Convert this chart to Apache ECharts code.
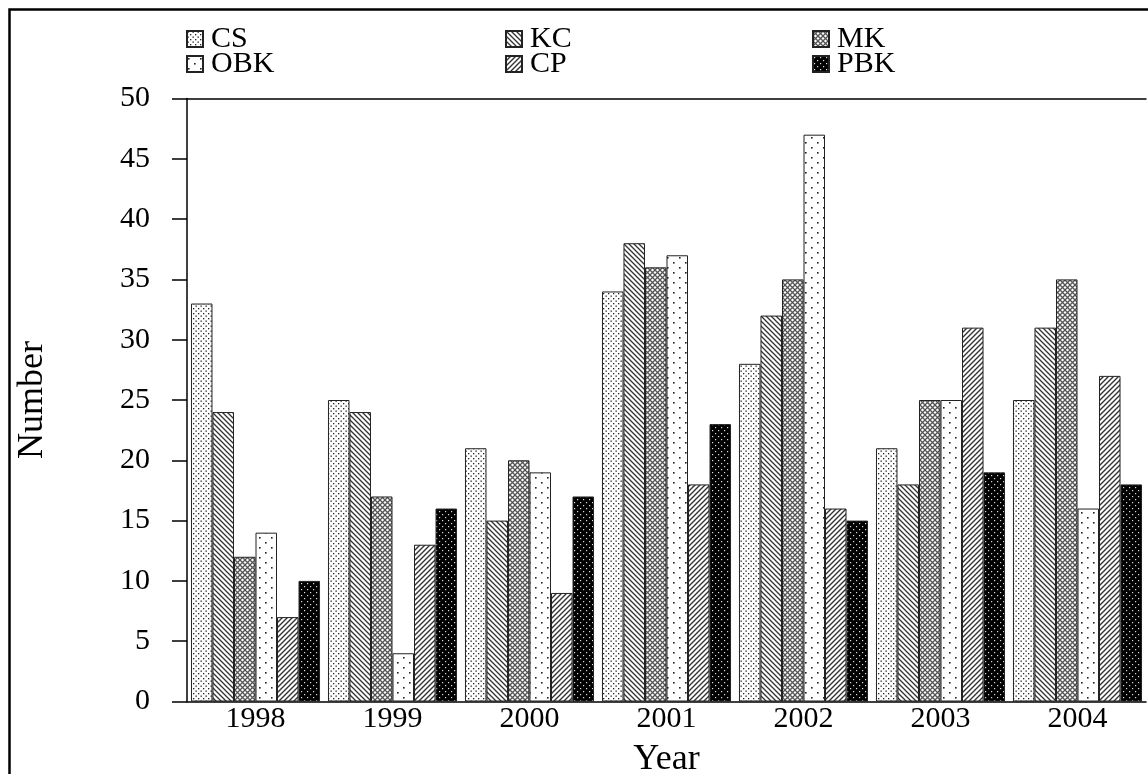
<!DOCTYPE html>
<html>
<head>
<meta charset="utf-8">
<script src="https://cdn.jsdelivr.net/npm/echarts@6/dist/echarts.min.js"></script>
<style>
html,body{margin:0;padding:0;background:#fff;}
#chart{width:1148px;height:774px;}
</style>
</head>
<body>
<div id="chart"></div>
<script>
// ---- data ----
const categories = ['1998', '1999', '2000', '2001', '2002', '2003', '2004'];
const seriesNames = ['CS', 'KC', 'MK', 'OBK', 'CP', 'PBK'];
const CS  = [33, 25, 21, 34, 28, 21, 25];
const KC  = [24, 24, 15, 38, 32, 18, 31];
const MK  = [12, 17, 20, 36, 35, 25, 35];
const OBK = [14,  4, 19, 37, 47, 25, 16];
const CP  = [ 7, 13,  9, 18, 16, 31, 27];
const PBK = [10, 16, 17, 23, 15, 19, 18];
const yMin = 0, yMax = 50, yInterval = 5;

// ---- patterns ----
function makePattern(w, h, draw) {
  const c = document.createElement('canvas');
  c.width = w; c.height = h;
  const ctx = c.getContext('2d');
  draw(ctx, w, h);
  return { image: c, repeat: 'repeat' };
}
function dot(ctx, x, y, s, col) { ctx.fillStyle = col; ctx.fillRect(x, y, s, s); }

const patCS = makePattern(5, 5, (ctx) => {
  ctx.fillStyle = '#fff'; ctx.fillRect(0, 0, 5, 5);
  dot(ctx, 0.5, 0.5, 1.3, '#222'); dot(ctx, 3, 3, 1.3, '#222');
});
const patOBK = makePattern(12, 10, (ctx) => {
  ctx.fillStyle = '#fff'; ctx.fillRect(0, 0, 12, 10);
  dot(ctx, 1, 2, 1.6, '#222'); dot(ctx, 7, 7, 1.6, '#222');
});
const patKC = makePattern(5, 5, (ctx) => {
  ctx.fillStyle = '#fff'; ctx.fillRect(0, 0, 5, 5);
  ctx.strokeStyle = '#333'; ctx.lineWidth = 1.3;
  ctx.beginPath();
  ctx.moveTo(-1, -1); ctx.lineTo(6, 6);
  ctx.moveTo(-1, 4); ctx.lineTo(1, 6);
  ctx.moveTo(4, -1); ctx.lineTo(6, 1);
  ctx.stroke();
});
const patCP = makePattern(5, 5, (ctx) => {
  ctx.fillStyle = '#fff'; ctx.fillRect(0, 0, 5, 5);
  ctx.strokeStyle = '#333'; ctx.lineWidth = 1.4;
  ctx.beginPath();
  ctx.moveTo(-1, 6); ctx.lineTo(6, -1);
  ctx.moveTo(-1, 1); ctx.lineTo(1, -1);
  ctx.moveTo(4, 6); ctx.lineTo(6, 4);
  ctx.stroke();
});
const patMK = makePattern(5, 5, (ctx) => {
  ctx.fillStyle = '#fff'; ctx.fillRect(0, 0, 5, 5);
  ctx.strokeStyle = '#555'; ctx.lineWidth = 1.3;
  ctx.beginPath();
  ctx.moveTo(-1, -1); ctx.lineTo(6, 6);
  ctx.moveTo(-1, 6); ctx.lineTo(6, -1);
  ctx.stroke();
});
const patPBK = makePattern(6, 6, (ctx) => {
  ctx.fillStyle = '#000'; ctx.fillRect(0, 0, 6, 6);
  dot(ctx, 1, 1, 1.2, '#ddd'); dot(ctx, 4, 4, 1.2, '#ddd');
});

const seriesData = { CS, KC, MK, OBK, CP, PBK };
const patterns = { CS: patCS, KC: patKC, MK: patMK, OBK: patOBK, CP: patCP, PBK: patPBK };

const FONT = "'Liberation Serif', 'Times New Roman', serif";

// legend placement: 3 columns x 2 rows
const legendPos = {
  CS:  [186, 24], OBK: [186, 49],
  KC:  [505, 24], CP:  [505, 49],
  MK:  [812, 24], PBK: [812, 49]
};

const legends = seriesNames.map(n => ({
  data: [n],
  left: legendPos[n][0], top: legendPos[n][1],
  padding: 0,
  icon: 'rect',
  itemWidth: 16, itemHeight: 16,
  itemGap: 0,
  selectedMode: false,
  textStyle: { fontFamily: FONT, fontSize: 30, color: '#000', padding: [0, 0, 0, 3] }
}));

const option = {
  animation: false,
  backgroundColor: '#fff',
  textStyle: { fontFamily: FONT },
  legend: legends,
  graphic: [{
    type: 'rect', left: 7, top: 7, z: -10, silent: true,
    shape: { width: 1300, height: 900 },
    style: { fill: 'none', stroke: '#000', lineWidth: 2.5 }
  }],
  grid: { left: 187, right: 2, top: 98.5, bottom: 72.5, containLabel: false, outerBoundsMode: 'none' },
  xAxis: [{
    type: 'category',
    data: categories,
    name: 'Year',
    nameLocation: 'middle',
    nameGap: 40,
    nameTextStyle: { fontFamily: FONT, fontSize: 36, color: '#000' },
    axisLine: { lineStyle: { color: '#000', width: 1.5 } },
    axisTick: { show: false },
    axisLabel: { fontFamily: FONT, fontSize: 30, color: '#000', margin: 3 }
  }, {
    type: 'category',
    data: categories,
    position: 'top',
    axisLine: { lineStyle: { color: '#000', width: 1.5 } },
    axisTick: { show: false },
    axisLabel: { show: false }
  }],
  yAxis: {
    type: 'value',
    min: yMin, max: yMax, interval: yInterval,
    name: 'Number',
    nameLocation: 'middle',
    nameGap: 136,
    nameTextStyle: { fontFamily: FONT, fontSize: 36, color: '#000' },
    axisLine: { show: true, lineStyle: { color: '#000', width: 1.5 } },
    axisTick: { show: true, inside: false, length: 15, lineStyle: { color: '#000', width: 1.5 } },
    axisLabel: { fontFamily: FONT, fontSize: 30, color: '#000', margin: 37 },
    splitLine: { show: false }
  },
  series: seriesNames.map(n => ({
    name: n,
    type: 'bar',
    data: seriesData[n],
    barGap: '0%',
    barCategoryGap: '5.8%',
    itemStyle: { color: patterns[n], borderColor: '#222', borderWidth: 1 },
    emphasis: { disabled: true }
  }))
};

const chart = echarts.init(document.getElementById('chart'), null, { renderer: 'canvas' });
chart.setOption(option);
</script>
</body>
</html>
